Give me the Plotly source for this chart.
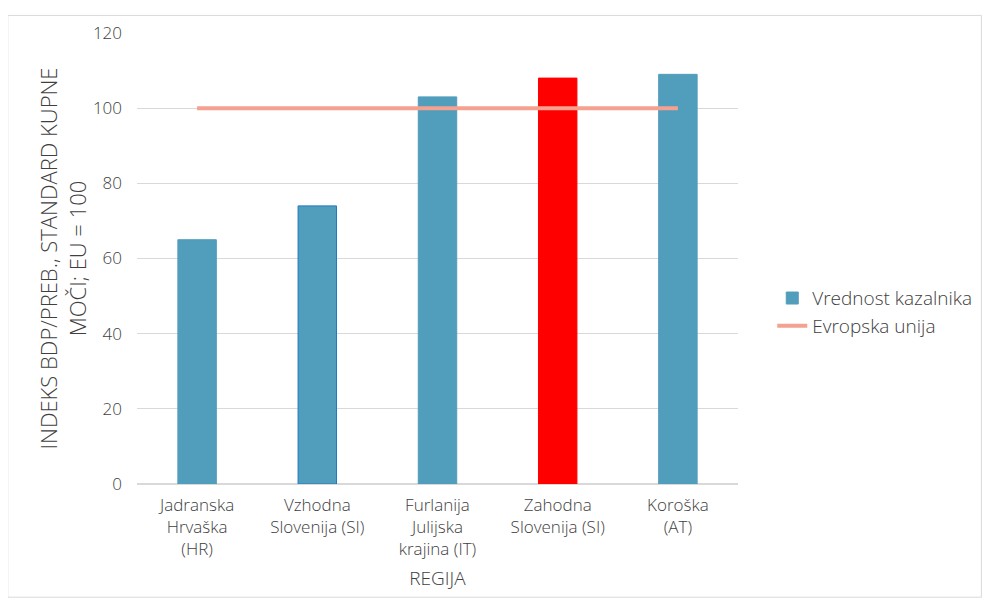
import plotly.graph_objects as go

regions = [
    "Jadranska<br>Hrvaška<br>(HR)",
    "Vzhodna<br>Slovenija (SI)",
    "Furlanija<br>Julijska<br>krajina (IT)",
    "Zahodna<br>Slovenija (SI)",
    "Koroška<br>(AT)",
]
values = [65, 74, 103, 108, 109]
eu_values = [100, 100, 100, 100, 100]
y_ticks = [0, 20, 40, 60, 80, 100, 120]

bar_colors = ["#519DBC", "#519DBC", "#519DBC", "#FF0000", "#519DBC"]
line_colors = ["#519DBC", "#1F78C4", "#519DBC", "#FF0000", "#519DBC"]

txt = "#404040"

fig = go.Figure()
fig.add_trace(go.Bar(
    x=regions, y=values, name="Vrednost kazalnika",
    marker=dict(color=bar_colors, line=dict(color=line_colors, width=1)),
    width=0.32,
))
fig.add_trace(go.Scatter(
    x=regions, y=eu_values, name="Evropska unija", mode="lines",
    line=dict(color="#F4A190", width=4),
))

fig.update_layout(
    width=993, height=608,
    margin=dict(l=129, r=263, t=25, b=132),
    plot_bgcolor="white", paper_bgcolor="white",
    font=dict(family="Open Sans, sans-serif", size=17, color=txt, weight=300),
    legend=dict(x=1.057, y=0.381, yanchor="middle", font=dict(size=19, color=txt, weight=300),
                bgcolor="rgba(0,0,0,0)", tracegroupgap=8),
    shapes=[dict(type="rect", xref="paper", yref="paper",
                 x0=-0.215, x1=1.405, y0=-0.251, y1=1.039,
                 line=dict(color="#D9D9D9", width=1))],
)
fig.update_xaxes(
    showgrid=False, showline=False, ticks="", ticklabelstandoff=9,
    tickfont=dict(size=17, color=txt, weight=300),
    title=dict(text="REGIJA", font=dict(size=19, color=txt, weight=300), standoff=12),
)
fig.update_yaxes(
    range=[0, 120], tickvals=y_ticks, showgrid=True, gridcolor="#D9D9D9", gridwidth=1,
    zeroline=True, zerolinecolor="#D9D9D9", ticks="", ticklabelstandoff=14,
    tickfont=dict(size=17, color=txt, weight=300),
    title=dict(text="INDEKS BDP/PREB., STANDARD KUPNE<br>MOČI; EU = 100",
               font=dict(size=22, color=txt, weight=300), standoff=0),
)

fig.write_html("out.html")
